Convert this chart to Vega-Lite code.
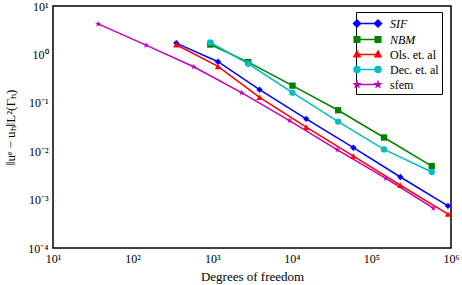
{
  "$schema": "https://vega.github.io/schema/vega-lite/v6.json",
  "width": 398,
  "height": 242,
  "autosize": {"type": "none"},
  "padding": {"left": 53, "top": 6, "right": 11, "bottom": 37},
  "background": "white",
  "config": {
    "view": {"stroke": "black", "strokeWidth": 1.5},
    "font": "Liberation Serif",
    "axis": {"labelFont": "Liberation Serif", "titleFont": "Liberation Serif", "labelColor": "black", "titleColor": "black", "titleFontWeight": "normal", "domain": false, "grid": false, "tickColor": "black", "tickWidth": 1},
    "legend": {"labelFont": "Liberation Serif", "labelColor": "black"}
  },
  "data": {
    "values": [
      {"method": "SIF", "dof": 354, "err": 1.71},
      {"method": "SIF", "dof": 1183, "err": 0.705},
      {"method": "SIF", "dof": 3935, "err": 0.187},
      {"method": "SIF", "dof": 15170, "err": 0.0467},
      {"method": "SIF", "dof": 59400, "err": 0.0118},
      {"method": "SIF", "dof": 231000, "err": 0.00293},
      {"method": "SIF", "dof": 916000, "err": 0.00074},
      {"method": "NBM", "dof": 946, "err": 1.6},
      {"method": "NBM", "dof": 2840, "err": 0.695},
      {"method": "NBM", "dof": 10200, "err": 0.226},
      {"method": "NBM", "dof": 38200, "err": 0.0702},
      {"method": "NBM", "dof": 144000, "err": 0.0192},
      {"method": "NBM", "dof": 573000, "err": 0.00493},
      {"method": "Ols. et. al", "dof": 354, "err": 1.58},
      {"method": "Ols. et. al", "dof": 1183, "err": 0.564},
      {"method": "Ols. et. al", "dof": 3935, "err": 0.13},
      {"method": "Ols. et. al", "dof": 15170, "err": 0.0313},
      {"method": "Ols. et. al", "dof": 59400, "err": 0.00794},
      {"method": "Ols. et. al", "dof": 231000, "err": 0.00198},
      {"method": "Ols. et. al", "dof": 916000, "err": 0.000501},
      {"method": "Dec. et. al", "dof": 946, "err": 1.76},
      {"method": "Dec. et. al", "dof": 2840, "err": 0.641},
      {"method": "Dec. et. al", "dof": 10200, "err": 0.162},
      {"method": "Dec. et. al", "dof": 38200, "err": 0.041},
      {"method": "Dec. et. al", "dof": 144000, "err": 0.0109},
      {"method": "Dec. et. al", "dof": 573000, "err": 0.00372},
      {"method": "sfem", "dof": 36.9, "err": 4.26},
      {"method": "sfem", "dof": 147.6, "err": 1.55},
      {"method": "sfem", "dof": 585, "err": 0.556},
      {"method": "sfem", "dof": 2340, "err": 0.162},
      {"method": "sfem", "dof": 9350, "err": 0.043},
      {"method": "sfem", "dof": 37400, "err": 0.0107},
      {"method": "sfem", "dof": 151700, "err": 0.00275},
      {"method": "sfem", "dof": 600000, "err": 0.000665}
    ]
  },
  "resolve": {"axis": {"x": "independent", "y": "independent"}},
  "layer": [
    {
      "mark": {"type": "line", "strokeWidth": 1.5, "clip": true},
      "encoding": {
        "x": {
          "field": "dof", "type": "quantitative",
          "scale": {"type": "log", "domain": [10, 1000000], "nice": false},
          "axis": {
            "orient": "bottom",
            "title": "Degrees of freedom",
            "titleFontSize": 13,
            "titleY": 28, "titleBaseline": "middle",
            "labelFontSize": 12,
            "labelPadding": 5,
            "labelFlush": false,
            "labelOverlap": false,
            "labelBound": false,
            "tickSize": 0,
            "values": [10,20,30,40,50,60,70,80,90,100,200,300,400,500,600,700,800,900,1000,2000,3000,4000,5000,6000,7000,8000,9000,10000,20000,30000,40000,50000,60000,70000,80000,90000,100000,200000,300000,400000,500000,600000,700000,800000,900000,1000000],
            "labelExpr": "datum.value == 10 ? '10¹' : datum.value == 100 ? '10²' : datum.value == 1000 ? '10³' : datum.value == 10000 ? '10⁴' : datum.value == 100000 ? '10⁵' : datum.value == 1000000 ? '10⁶' : ''",
            "encode": {"ticks": {"y2": {"condition": {"test": "abs(log(datum.value)/LN10 - round(log(datum.value)/LN10)) < 1e-6", "value": -5}, "value": -2.5}}}
          }
        },
        "y": {
          "field": "err", "type": "quantitative",
          "scale": {"type": "log", "domain": [0.0001, 10], "nice": false},
          "axis": {
            "orient": "left",
            "title": "‖uᵉ − uₕ‖L²(Γₕ)",
            "titleFontSize": 13,
            "titleX": -43, "titleY": 121, "titleAngle": 270, "titleAlign": "center", "titleBaseline": "middle",
            "labelFontSize": 12,
            "labelPadding": 5,
            "labelFlush": false,
            "labelOverlap": false,
            "labelBound": false,
            "tickSize": 0,
            "values": [0.0001,0.0002,0.0003,0.0004,0.0005,0.0006,0.0007,0.0008,0.0009,0.001,0.002,0.003,0.004,0.005,0.006,0.007,0.008,0.009,0.01,0.02,0.03,0.04,0.05,0.06,0.07,0.08,0.09,0.1,0.2,0.3,0.4,0.5,0.6,0.7,0.8,0.9,1,2,3,4,5,6,7,8,9,10],
            "labelExpr": "datum.value == 10 ? '10¹' : datum.value == 1 ? '10⁰' : datum.value == 0.1 ? '10⁻¹' : datum.value == 0.01 ? '10⁻²' : datum.value == 0.001 ? '10⁻³' : datum.value == 0.0001 ? '10⁻⁴' : ''",
            "encode": {"ticks": {"x2": {"condition": {"test": "abs(log(datum.value)/LN10 - round(log(datum.value)/LN10)) < 1e-6", "value": 5}, "value": 2.5}}}
          }
        },
        "stroke": {
          "field": "method", "type": "nominal",
          "scale": {"domain": ["sfem", "Dec. et. al", "Ols. et. al", "NBM", "SIF"], "range": ["#bf00bf", "#00bfbf", "#ff0000", "#008000", "#0000ff"]},
          "legend": null
        },
        "detail": {"field": "method"}
      }
    },
    {
      "mark": {"type": "point", "filled": true, "opacity": 1, "size": 40, "clip": true},
      "encoding": {
        "x": {
          "field": "dof", "type": "quantitative",
          "scale": {"type": "log", "domain": [10, 1000000], "nice": false},
          "axis": {
            "orient": "top", "title": null, "labels": false, "tickSize": 0,
            "values": [10,20,30,40,50,60,70,80,90,100,200,300,400,500,600,700,800,900,1000,2000,3000,4000,5000,6000,7000,8000,9000,10000,20000,30000,40000,50000,60000,70000,80000,90000,100000,200000,300000,400000,500000,600000,700000,800000,900000,1000000],
            "encode": {"ticks": {"y2": {"condition": {"test": "abs(log(datum.value)/LN10 - round(log(datum.value)/LN10)) < 1e-6", "value": 5}, "value": 2.5}}}
          }
        },
        "y": {
          "field": "err", "type": "quantitative",
          "scale": {"type": "log", "domain": [0.0001, 10], "nice": false},
          "axis": {
            "orient": "right", "title": null, "labels": false, "tickSize": 0,
            "values": [0.0001,0.0002,0.0003,0.0004,0.0005,0.0006,0.0007,0.0008,0.0009,0.001,0.002,0.003,0.004,0.005,0.006,0.007,0.008,0.009,0.01,0.02,0.03,0.04,0.05,0.06,0.07,0.08,0.09,0.1,0.2,0.3,0.4,0.5,0.6,0.7,0.8,0.9,1,2,3,4,5,6,7,8,9,10],
            "encode": {"ticks": {"x2": {"condition": {"test": "abs(log(datum.value)/LN10 - round(log(datum.value)/LN10)) < 1e-6", "value": -5}, "value": -2.5}}}
          }
        },
        "color": {
          "field": "method", "type": "nominal",
          "scale": {"domain": ["SIF", "NBM", "Ols. et. al", "Dec. et. al", "sfem"], "range": ["#0000ff", "#008000", "#ff0000", "#00bfbf", "#bf00bf"]},
          "legend": {
            "title": null,
            "orient": "none",
            "legendX": 303,
            "legendY": 6,
            "padding": 3,
            "rowPadding": 0,
            "symbolSize": 225,
            "labelFontSize": 12,
            "labelOffset": 14,
            "strokeColor": "black",
            "fillColor": "white",
            "cornerRadius": 0,
            "symbolOpacity": 1,
            "symbolStrokeWidth": 1.5,
            "symbolStrokeColor": {"expr": "scale('color', datum.value)"},
            "symbolType": {"expr": "datum.value == 'SIF' ? 'M-1.4,0H1.4M-1.87,0L-1.4,-0.47L-0.93,0L-1.4,0.47ZM0.93,0L1.4,-0.47L1.87,0L1.4,0.47Z' : datum.value == 'NBM' ? 'M-1.4,0H1.4M-1.77,-0.37H-1.03V0.37H-1.77ZM1.03,-0.37H1.77V0.37H1.03Z' : datum.value == 'Ols. et. al' ? 'M-1.4,0H1.4M-1.4,-0.45L-1.0,0.3L-1.8,0.3ZM1.4,-0.45L1.8,0.3L1.0,0.3Z' : datum.value == 'Dec. et. al' ? 'M-1.4,0H1.4M-1.8,0A0.4,0.4,0,1,0,-1.0,0A0.4,0.4,0,1,0,-1.8,0ZM1.0,0A0.4,0.4,0,1,0,1.8,0A0.4,0.4,0,1,0,1.0,0Z' : 'M-1.4,0H1.4M-1.4,-0.35L-1.318,-0.113L-1.067,-0.108L-1.267,0.043L-1.194,0.283L-1.4,0.14L-1.606,0.283L-1.533,0.043L-1.733,-0.108L-1.482,-0.113ZM1.4,-0.35L1.482,-0.113L1.733,-0.108L1.533,0.043L1.606,0.283L1.4,0.14L1.194,0.283L1.267,0.043L1.067,-0.108L1.318,-0.113Z'"},
            "labelFontStyle": {"expr": "datum.value == 'SIF' || datum.value == 'NBM' ? 'italic' : 'normal'"}
          }
        },
        "shape": {
          "field": "method", "type": "nominal",
          "scale": {"domain": ["sfem", "Dec. et. al", "Ols. et. al", "NBM", "SIF"], "range": ["M0,-1L0.235,-0.324L0.951,-0.309L0.38,0.124L0.588,0.809L0,0.4L-0.588,0.809L-0.38,0.124L-0.951,-0.309L-0.235,-0.324Z", "circle", "triangle-up", "square", "diamond"]},
          "legend": null
        }
      }
    }
  ]
}
